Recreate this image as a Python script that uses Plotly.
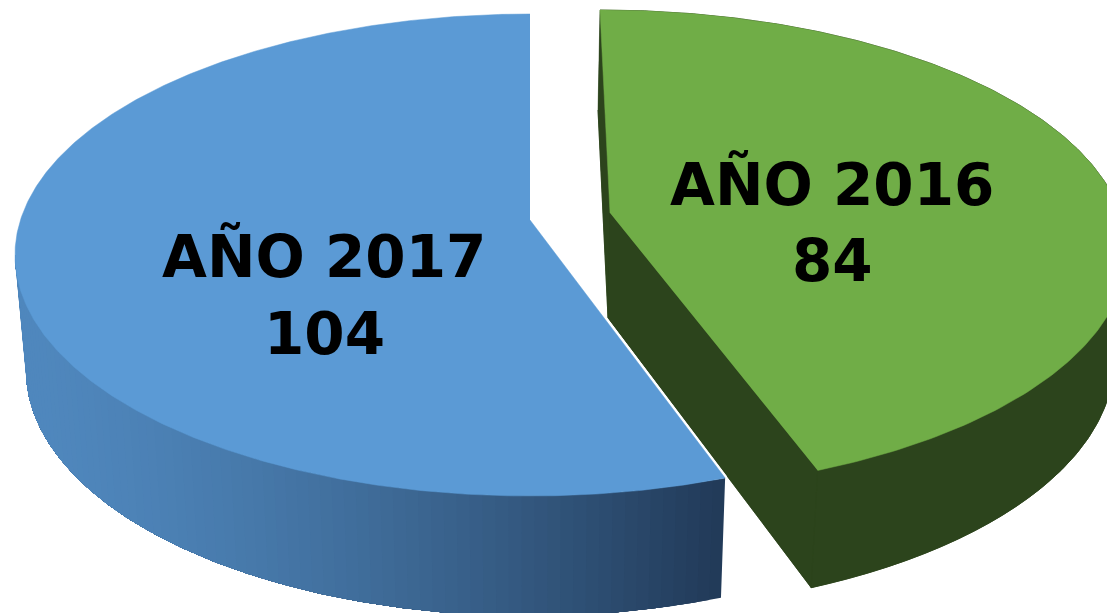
import numpy as np
import plotly.graph_objects as go

# --- data ---
categories = ["AÑO 2016", "AÑO 2017"]
values = [84, 104]

# --- styles ---
TOP_COLORS = ["#70AD47", "#5B9AD5"]
SIDE_GREEN = "#2C441C"
BLUE_SIDE_LIGHT = np.array([80, 136, 190])
BLUE_SIDE_DARK = np.array([34, 59, 89])

# --- projected geometry of the exploded 3D pie (pixel space) ---
GREEN_TOP = dict(cx=600, cy=251, a=527, b=241)
GREEN_LOW = dict(cx=598, cy=360, a=516, b=250)
GREEN_APEX_TOP, GREEN_APEX_LOW = (610, 213), (608, 318)
BLUE_TOP = dict(cx=530, cy=255, a=515, b=241)
BLUE_LOW = dict(cx=530, cy=370, a=504, b=246)
BLUE_APEX_TOP = (530, 220)
WARP_GREEN, WARP_BLUE = 16.0, 9.5  # perspective distortion of the angle, degrees


def rim(e, deg):
    t = np.radians(deg)
    return e["cx"] + e["a"] * np.sin(t), e["cy"] - e["b"] * np.cos(t)


def warp(deg, k):
    return deg - k * np.sin(np.radians(deg))


fraction = values[0] / sum(values)
split = 360 * fraction  # clockwise from 12 o'clock
green_angles = warp(np.linspace(0, split, 240), WARP_GREEN)
blue_angles = warp(np.linspace(split, 360, 480), WARP_BLUE)

fig = go.Figure()


def poly(xs, ys, color, line=0.8):
    fig.add_trace(go.Scatter(
        x=list(xs), y=list(ys), mode="lines", fill="toself", fillcolor=color,
        line=dict(color=color, width=line), hoverinfo="skip", showlegend=False,
    ))


# green slice: body then top
gx, gy = rim(GREEN_TOP, green_angles)
lx, ly = rim(GREEN_LOW, green_angles)
poly(np.r_[gx, lx[::-1]], np.r_[gy, ly[::-1]], SIDE_GREEN)
poly(np.r_[GREEN_APEX_LOW[0], lx], np.r_[GREEN_APEX_LOW[1], ly], SIDE_GREEN)
poly([gx[0], lx[0], GREEN_APEX_LOW[0], GREEN_APEX_TOP[0]],
     [gy[0], ly[0], GREEN_APEX_LOW[1], GREEN_APEX_TOP[1]], SIDE_GREEN, 0.5)
poly([GREEN_APEX_TOP[0], gx[-1], lx[-1], GREEN_APEX_LOW[0]],
     [GREEN_APEX_TOP[1], gy[-1], ly[-1], GREEN_APEX_LOW[1]], SIDE_GREEN)
poly(np.r_[GREEN_APEX_TOP[0], gx], np.r_[GREEN_APEX_TOP[1], gy], TOP_COLORS[0], 0.5)

# blue slice: white cut line, shaded side in overlapping strips, then top
bx, by = rim(BLUE_TOP, blue_angles)
fig.add_trace(go.Scatter(
    x=[BLUE_APEX_TOP[0], bx[0]], y=[BLUE_APEX_TOP[1], by[0]], mode="lines",
    line=dict(color="white", width=5), hoverinfo="skip", showlegend=False,
))
side_angles = np.r_[blue_angles[blue_angles < 270], 270.0]
sx, sy = rim(BLUE_TOP, side_angles)
ox, oy = rim(BLUE_LOW, side_angles)
x_left, x_right = sx[-1], sx[0]
STRIP_STEP = 3
for i in range(0, len(side_angles) - 1, STRIP_STEP):
    # each strip is painted from its own start to the end of the arc, so no seams show
    t = (sx[i] - x_left) / (x_right - x_left)
    c = BLUE_SIDE_LIGHT + (BLUE_SIDE_DARK - BLUE_SIDE_LIGHT) * t ** 1.5
    col = "rgb(%d,%d,%d)" % tuple(c)
    poly(np.r_[sx[i:], ox[i:][::-1]], np.r_[sy[i:], oy[i:][::-1]], col, 0)
poly(np.r_[BLUE_APEX_TOP[0], bx], np.r_[BLUE_APEX_TOP[1], by], TOP_COLORS[1], 0.5)

# labels, one annotation per line
LABEL_POS = [(832, 184, 261), (324, 256, 334)]
for cat, val, (x, y1, y2) in zip(categories, values, LABEL_POS):
    for txt, y in ((cat, y1), (str(val), y2)):
        fig.add_annotation(x=x, y=y, text=txt, showarrow=False, xanchor="center", yanchor="middle",
                           font=dict(family="DejaVu Sans", size=58, color="black", weight="bold"))

fig.update_layout(
    width=1107, height=613, margin=dict(l=0, r=0, t=0, b=0),
    paper_bgcolor="white", plot_bgcolor="white", showlegend=False,
    xaxis=dict(range=[0, 1107], visible=False, fixedrange=True),
    yaxis=dict(range=[613, 0], visible=False, fixedrange=True),
)
fig.write_html("out.html", config=dict(displayModeBar=False),
               post_script="document.body.style.margin='0';document.body.style.overflow='hidden';")
